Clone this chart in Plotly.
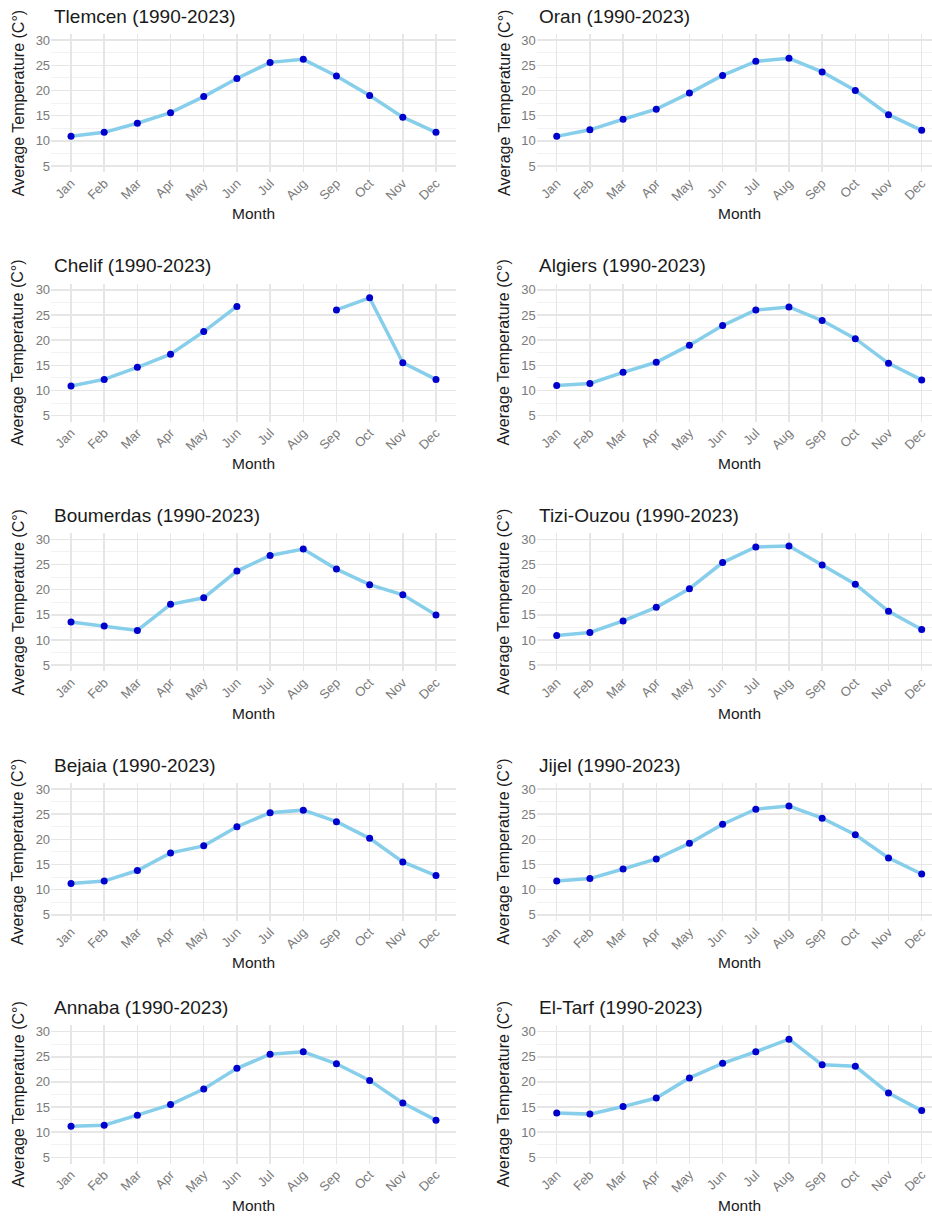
import plotly.graph_objects as go

months = ["Jan", "Feb", "Mar", "Apr", "May", "Jun", "Jul", "Aug", "Sep", "Oct", "Nov", "Dec"]

stations = ["Tlemcen", "Oran", "Chelif", "Algiers", "Boumerdas",
            "Tizi-Ouzou", "Bejaia", "Jijel", "Annaba", "El-Tarf"]
period = "1990-2023"

tlemcen = [10.9, 11.7, 13.5, 15.6, 18.8, 22.4, 25.6, 26.2, 22.9, 19.0, 14.7, 11.7]
oran = [10.9, 12.2, 14.3, 16.3, 19.5, 23.0, 25.8, 26.4, 23.7, 20.0, 15.2, 12.1]
chelif = [10.9, 12.2, 14.6, 17.2, 21.7, 26.7, None, None, 26.0, 28.4, 15.5, 12.2]
algiers = [11.0, 11.4, 13.6, 15.6, 19.0, 22.9, 26.0, 26.6, 23.9, 20.3, 15.4, 12.1]
boumerdas = [13.6, 12.8, 11.9, 17.1, 18.4, 23.7, 26.8, 28.1, 24.1, 21.0, 19.0, 15.0]
tizi_ouzou = [10.9, 11.5, 13.8, 16.5, 20.2, 25.4, 28.5, 28.7, 24.9, 21.1, 15.7, 12.1]
bejaia = [11.2, 11.7, 13.8, 17.3, 18.7, 22.5, 25.3, 25.8, 23.5, 20.2, 15.5, 12.8]
jijel = [11.7, 12.2, 14.1, 16.1, 19.2, 23.0, 26.0, 26.6, 24.2, 20.9, 16.3, 13.1]
annaba = [11.2, 11.4, 13.4, 15.5, 18.6, 22.7, 25.5, 26.0, 23.6, 20.3, 15.8, 12.4]
el_tarf = [13.8, 13.6, 15.1, 16.8, 20.8, 23.7, 26.0, 28.5, 23.4, 23.1, 17.8, 14.3]

series = [tlemcen, oran, chelif, algiers, boumerdas,
          tizi_ouzou, bejaia, jijel, annaba, el_tarf]

y_major = [5, 10, 15, 20, 25, 30]
y_minor = [7.5, 12.5, 17.5, 22.5, 27.5]

# ---- layout geometry (screen pixels; body margin removed below) ----
W, H = 932, 1216
col_left = [51.1, 536.8]
col_px = 33.18          # pixels per month
row_y30 = [39.3, 289.3, 539.3, 789.3, 1032.3]
px_per_deg = 5.04

FONT = "Liberation Sans, Arial, sans-serif"
TXT = "#1a1a1a"
TICK = "#7a7a7a"
GRID = "#e6e6e6"
GRID_MINOR = "#efefef"

fig = go.Figure()
annotations = []
layout = {}

for i, (name, vals) in enumerate(zip(stations, series)):
    r, c = divmod(i, 2)
    k = i + 1
    xl = col_left[c]
    xr_full = xl + 12.2 * col_px
    xr = min(xr_full, W)
    xmax = -0.6 + (xr - xl) / col_px
    top = row_y30[r] - 1.25 * px_per_deg
    bot = row_y30[r] + 26.25 * px_per_deg

    xa = "x" if k == 1 else f"x{k}"
    ya = "y" if k == 1 else f"y{k}"

    fig.add_trace(go.Scatter(
        x=months, y=vals, mode="lines+markers",
        line=dict(color="#87CEEB", width=3.5),
        marker=dict(color="#0000CD", size=7),
        connectgaps=False, showlegend=False, cliponaxis=False,
        xaxis=xa, yaxis=ya, name=name,
    ))

    layout["xaxis" if k == 1 else f"xaxis{k}"] = dict(
        domain=[xl / W, xr / W],
        anchor=ya,
        type="category",
        categoryorder="array",
        categoryarray=months,
        range=[-0.6, xmax],
        showgrid=True, gridcolor=GRID, gridwidth=1.5,
        zeroline=False, showline=False, ticks="",
        tickangle=-45,
        tickfont=dict(family=FONT, size=13, color=TICK),
        fixedrange=True,
    )
    layout["yaxis" if k == 1 else f"yaxis{k}"] = dict(
        domain=[1 - bot / H, 1 - top / H],
        anchor=xa,
        range=[3.75, 31.25],
        tickvals=y_major,
        showgrid=True, gridcolor=GRID, gridwidth=1.5,
        minor=dict(tickvals=y_minor, showgrid=True, gridcolor=GRID_MINOR, gridwidth=0.8),
        zeroline=False, showline=False, ticks="",
        tickfont=dict(family=FONT, size=13, color=TICK),
        fixedrange=True,
    )

    # panel title
    annotations.append(dict(
        text=f"{name} ({period})", xref="paper", yref="paper",
        x=(xl + 0.5) / W, y=1 - (row_y30[r] - 24) / H,
        xanchor="left", yanchor="middle", showarrow=False,
        font=dict(family=FONT, size=19, color=TXT),
    ))
    # y axis title
    annotations.append(dict(
        text="Average Temperature (C°)", xref="paper", yref="paper",
        x=(xl - 33) / W, y=1 - ((top + bot) / 2) / H,
        xanchor="center", yanchor="middle", textangle=-90, showarrow=False,
        font=dict(family=FONT, size=16, color=TXT),
    ))
    # x axis title
    annotations.append(dict(
        text="Month", xref="paper", yref="paper",
        x=(xl + 6.1 * col_px) / W, y=1 - (row_y30[r] + 174) / H,
        xanchor="center", yanchor="middle", showarrow=False,
        font=dict(family=FONT, size=15.5, color=TXT),
    ))

fig.update_layout(
    width=W, height=H,
    margin=dict(l=0, r=0, t=0, b=0),
    paper_bgcolor="white", plot_bgcolor="white",
    font=dict(family=FONT),
    annotations=annotations,
    showlegend=False,
    hovermode=False,
    **layout,
)

fig.write_html(
    "out.html",
    config={"displayModeBar": False, "staticPlot": True},
    post_script="document.body.style.margin='0px';document.body.style.padding='0px';"
                "document.documentElement.style.overflow='hidden';",
)
